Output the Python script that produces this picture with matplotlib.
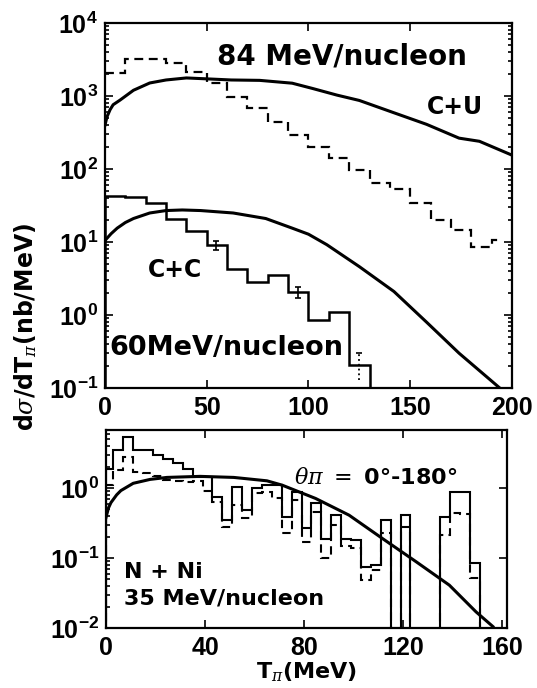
import numpy as np
import matplotlib.pyplot as plt
from matplotlib.ticker import LogLocator, NullFormatter

plt.rcParams['mathtext.fontset'] = 'custom'
plt.rcParams['mathtext.rm'] = 'DejaVu Serif'
plt.rcParams['mathtext.it'] = 'DejaVu Serif:italic'
plt.rcParams['mathtext.bf'] = 'Liberation Sans:bold'

# ---- panel superior: C+U (84 MeV/nucleon) y C+C (60 MeV/nucleon)
cu_edges = [0, 10, 20, 30, 40, 50, 60, 70, 80, 90, 100, 110, 120, 130, 140, 150, 160, 170, 180, 190, 195]
cu_hist = [2070, 3230, 3200, 2800, 2140, 1510, 970, 690, 440, 295, 200, 141, 97, 65, 53, 34, 20, 14.5, 8.5, 10.7]
cu_T = [0, 1, 2.5, 4, 7.4, 14, 22, 30, 40, 50, 62, 76, 92, 102, 114, 125, 142, 158, 174, 184, 200]
cu_theory = [400, 520, 650, 760, 880, 1200, 1510, 1660, 1770, 1720, 1660, 1640, 1500, 1270, 1030, 870, 590, 410, 265, 240, 155]

cc_edges = [0, 10, 20, 30, 40, 50, 60, 70, 80, 90, 100, 110, 120, 130]
cc_hist = [43, 42, 34, 21, 14, 9, 4.3, 2.8, 3.5, 2.1, 0.85, 1.1, 0.21]
cc_T = [0, 3, 6, 10, 14, 22, 30, 38, 47, 63, 79, 92, 100, 109, 125, 142, 158, 174, 191, 194]
cc_theory = [10.5, 13, 15.5, 18.5, 21, 25, 27, 27.5, 27, 25, 21, 15.5, 12.8, 9.2, 4.6, 2.1, 0.8, 0.30, 0.118, 0.1]

err_T = [54.5, 95]
err_val = [9, 2.05]
err_lo = [7.7, 1.7]
err_hi = [10.3, 2.4]
err2_T = [125]
err2_lo = [0.13]
err2_hi = [0.30]

# ---- panel inferior: N+Ni 35 MeV/nucleon
nn_edges = [0, 3, 7, 11, 15, 19, 23, 27, 31, 35, 39, 43, 47, 51, 55, 59, 63, 67, 71, 75,
            79, 83, 87, 91, 95, 99, 103, 107, 111, 115, 119, 123, 127, 131, 135, 139, 143, 147, 151]
nn_solid = [1.9, 3.5, 5.4, 3.5, 3.5, 2.96, 2.57, 2.3, 1.85, 1.45, 1.45, 0.75, 0.35, 1.05, 0.49, 1.0, 1.1, 1.1, 0.39,
            0.89, 0.27, 0.61, 0.19, 0.41, 0.19, 0.18, 0.074, 0.08, 0.35, 0, 0.41, 0, 0, 0, 0.39, 0.89, 0.89, 0.085]
nn_dashed = [1.1, 1.8, 2.8, 1.7, 1.65, 1.5, 1.3, 1.28, 1.23, 1.25, 0.9, 0.64, 0.28, 0.57, 0.37, 0.85, 0.89, 0.71, 0.23,
             0.67, 0.17, 0.46, 0.10, 0.30, 0.15, 0.14, 0.049, 0.068, 0.23, 0, 0.28, 0, 0, 0, 0.21, 0.44, 0.43, 0.051]
nn_T = [0, 1, 2, 4.3, 6, 11, 17.8, 24.6, 38, 51.6, 65, 71.2, 84.7, 98.2, 111.7, 125.2, 138.7, 149.5, 156.3]
nn_theory = [0.38, 0.52, 0.62, 0.8, 0.92, 1.17, 1.33, 1.42, 1.47, 1.42, 1.27, 1.1, 0.71, 0.41, 0.19, 0.089, 0.041, 0.017, 0.0105]

top_yexp = [-1, 0, 1, 2, 3, 4]
top_xticks = [0, 50, 100, 150, 200]
bot_yexp = [-2, -1, 0]
bot_xticks = [0, 40, 80, 120, 160]

tickfont = dict(family='Liberation Sans', weight='bold', size=18)
dash = (0, (4, 2.5))

fig = plt.figure(figsize=(5.37, 6.88), dpi=100)
ax1 = fig.add_axes([0.1955, 0.436, 0.7579, 0.5305])
ax2 = fig.add_axes([0.1974, 0.0872, 0.7467, 0.2878])

# panel superior
ax1.set_yscale('log')
ax1.stairs(cu_hist, cu_edges, baseline=None, color='k', lw=1.6, ls=dash)
ax1.plot(cu_T, cu_theory, color='k', lw=2.2)
ax1.stairs(cc_hist, cc_edges, baseline=1e-3, color='k', lw=1.8)
ax1.plot(cc_T, cc_theory, color='k', lw=2.2)
ax1.errorbar(err_T, err_val, yerr=[np.subtract(err_val, err_lo), np.subtract(err_hi, err_val)],
             fmt='none', ecolor='k', elinewidth=1.2, capsize=2.5, capthick=1.2)
ax1.vlines(err2_T, err2_lo, err2_hi, colors='k', linestyles=':', lw=1.3)
ax1.plot(err2_T, err2_hi, marker='_', color='k', ms=5, mew=1.2)
ax1.set_xlim(0, 200)
ax1.set_ylim(0.1, 1e4)
ax1.set_xticks(top_xticks, [str(t) for t in top_xticks])
ax1.set_yticks([10.0**e for e in top_yexp], [r'$\mathbf{10^{%d}}$' % e for e in top_yexp])
ax1.yaxis.set_minor_locator(LogLocator(base=10, subs=range(2, 10), numticks=20))
ax1.yaxis.set_minor_formatter(NullFormatter())
ax1.tick_params(which='both', direction='in', top=True, right=True, width=1.2)
ax1.tick_params(which='major', length=6)
ax1.tick_params(which='minor', length=3)
ax1.tick_params(axis='x', pad=6)
ax1.tick_params(axis='y', pad=5)

ax1.text(0.275, 0.907, '84 MeV/nucleon', transform=ax1.transAxes, fontsize=20,
         fontweight='bold', va='center', ha='left')
ax1.text(0.79, 0.77, 'C+U', transform=ax1.transAxes, fontsize=17,
         fontweight='bold', va='center', ha='left')
ax1.text(0.106, 0.323, 'C+C', transform=ax1.transAxes, fontsize=17,
         fontweight='bold', va='center', ha='left')
ax1.text(0.012, 0.11, '60MeV/nucleon', transform=ax1.transAxes, fontsize=19.5,
         fontweight='bold', va='center', ha='left')

# panel inferior
ax2.set_yscale('log')
solid = np.where(np.array(nn_solid) > 0, nn_solid, 1e-4)
dashed = np.where(np.array(nn_dashed) > 0, nn_dashed, 1e-4)
ax2.stairs(dashed, nn_edges, baseline=1e-4, color='k', lw=1.5, ls=dash)
ax2.stairs(solid, nn_edges, baseline=1e-4, color='k', lw=1.5)
ax2.plot(nn_T, nn_theory, color='k', lw=2.2)
ax2.set_xlim(0, 162)
ax2.set_ylim(0.01, 10**0.83)
ax2.set_xticks(bot_xticks, [str(t) for t in bot_xticks])
ax2.set_yticks([10.0**e for e in bot_yexp], [r'$\mathbf{10^{%d}}$' % e for e in bot_yexp])
ax2.yaxis.set_minor_locator(LogLocator(base=10, subs=range(2, 10), numticks=20))
ax2.yaxis.set_minor_formatter(NullFormatter())
ax2.tick_params(which='both', direction='in', top=True, right=True, width=1.2)
ax2.tick_params(which='major', length=6)
ax2.tick_params(which='minor', length=3, right=False)
ax2.tick_params(axis='x', pad=6)
ax2.tick_params(axis='y', pad=5)

ax2.text(0.47, 0.758, r'$\theta\pi\ =$ 0°-180°', transform=ax2.transAxes, fontsize=16,
         fontweight='bold', va='center', ha='left')
ax2.text(0.045, 0.283, 'N + Ni', transform=ax2.transAxes, fontsize=16,
         fontweight='bold', va='center', ha='left')
ax2.text(0.045, 0.15, '35 MeV/nucleon', transform=ax2.transAxes, fontsize=16,
         fontweight='bold', va='center', ha='left')
ax2.set_xlabel(r'T$_{\pi}$(MeV)', fontsize=16, fontweight='bold', labelpad=0)

for ax in (ax1, ax2):
    for lab in ax.get_xticklabels() + ax.get_yticklabels():
        lab.set_fontproperties(tickfont)
    for s in ax.spines.values():
        s.set_linewidth(1.6)

fig.text(0.047, 0.525, r'd$\sigma$/dT$_{\pi}$(nb/MeV)', rotation=90, fontsize=17,
         fontweight='bold', va='center', ha='center')

fig.savefig('out.png', dpi=100)
